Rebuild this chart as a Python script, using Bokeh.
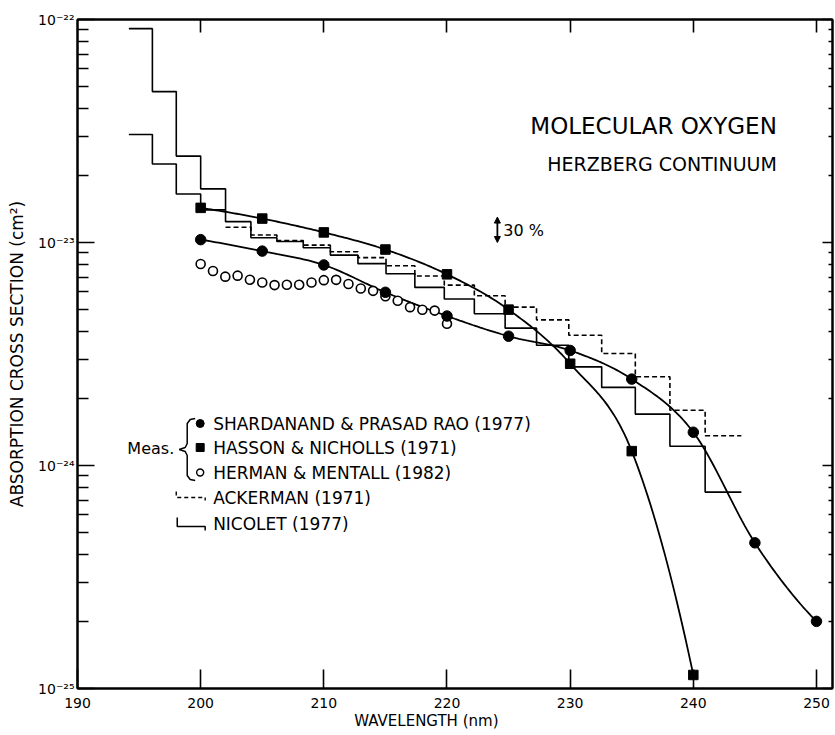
import numpy as np
from bokeh.plotting import figure
from bokeh.models import (LogAxis, LinearAxis, FixedTicker, Range1d, Label, Arrow,
                          NormalHead, CustomJSTickFormatter)
from bokeh.embed import file_html
from bokeh.resources import INLINE

# ---------------- data ----------------
# interval boundaries (nm) of the 500 cm-1 intervals
bounds = [194.17, 196.08, 198.02, 200.00, 202.02, 204.08, 206.19, 208.33, 210.53,
          212.77, 215.05, 217.39, 219.78, 222.22, 224.72, 227.27, 229.89, 232.56,
          235.29, 238.10, 240.96, 243.90]
nicolet_upper = [9.1e-23, 4.75e-23, 2.44e-23, 1.74e-23, 1.24e-23, 1.05e-23, 1.01e-23,
                 9.47e-24, 8.78e-24, 8.04e-24, 7.24e-24, 6.29e-24, 5.58e-24, 4.79e-24,
                 4.13e-24, 3.46e-24, 2.77e-24, 2.24e-24, 1.70e-24, 1.22e-24, 7.6e-25]
nicolet_lower_bounds = [194.17, 196.08, 198.02, 200.00, 202.02]
nicolet_lower = [3.05e-23, 2.25e-23, 1.65e-23, 1.40e-23]
ackerman_bounds = [202.02, 204.08, 206.19, 208.33, 210.53, 212.77, 215.05, 217.39,
                   219.78, 222.22, 224.72, 227.27, 229.89, 232.56, 235.29, 238.10,
                   240.96, 243.90]
ackerman = [1.17e-23, 1.08e-23, 1.02e-23, 9.73e-24, 9.09e-24, 8.55e-24, 7.86e-24,
            7.08e-24, 6.44e-24, 5.77e-24, 5.13e-24, 4.50e-24, 3.84e-24, 3.18e-24,
            2.50e-24, 1.77e-24, 1.36e-24]

shard_wl = [200, 205, 210, 215, 220, 225, 230, 235, 240, 245, 250]
shard_xs = [1.03e-23, 9.15e-24, 7.93e-24, 5.98e-24, 4.68e-24, 3.80e-24, 3.28e-24,
            2.44e-24, 1.41e-24, 4.5e-25, 2.0e-25]
hasson_wl = [200, 205, 210, 215, 220, 225, 230, 235, 240]
hasson_xs = [1.43e-23, 1.28e-23, 1.11e-23, 9.3e-24, 7.2e-24, 5.0e-24, 2.86e-24,
             1.16e-24, 1.15e-25]
herman_wl = [200, 201, 202, 203, 204, 205, 206, 207, 208, 209, 210, 211, 212, 213,
             214, 215, 216, 217, 218, 219, 220]
herman_xs = [8.01e-24, 7.45e-24, 7.03e-24, 7.10e-24, 6.81e-24, 6.62e-24, 6.44e-24,
             6.46e-24, 6.46e-24, 6.62e-24, 6.78e-24, 6.80e-24, 6.51e-24, 6.22e-24,
             6.07e-24, 5.74e-24, 5.48e-24, 5.13e-24, 4.99e-24, 4.95e-24, 4.32e-24]

x_ticks = [190, 200, 210, 220, 230, 240, 250]
y_decades = [1e-25, 1e-24, 1e-23, 1e-22]
scale_bar = [1.0e-23, 1.3e-23]   # the "30 %" indicator

legend_labels = ["SHARDANAND & PRASAD RAO (1977)", "HASSON & NICHOLLS (1971)",
                 "HERMAN & MENTALL (1982)", "ACKERMAN (1971)", "NICOLET (1977)"]

# ---------------- layout ----------------
W, H = 835, 735
BL, BR, BT, BB = 77, 1, 19, 47
X0, X1 = 190.0, 251.3
FW, FH = W - BL - BR, H - BT - BB
FONT = "DejaVu Sans"


def dx(px):
    return X0 + (px - BL) / FW * (X1 - X0)


def dy(py):
    return 10 ** (-22 - (py - BT) / FH * 3)


def smooth(xs, ys, n=24):
    x = np.asarray(xs, float)
    l = np.log10(np.asarray(ys, float))
    k = len(x)
    sec = np.diff(l) / np.diff(x)
    m = np.empty(k)
    m[1:-1] = (l[2:] - l[:-2]) / (x[2:] - x[:-2])
    m[0] = 2 * sec[0] - m[1]
    m[-1] = 2 * sec[-1] - m[-2]
    ox, oy = [], []
    for i in range(k - 1):
        h = x[i + 1] - x[i]
        t = np.linspace(0, 1, n, endpoint=(i == k - 2))
        h00 = 2 * t**3 - 3 * t**2 + 1
        h10 = t**3 - 2 * t**2 + t
        h01 = -2 * t**3 + 3 * t**2
        h11 = t**3 - t**2
        ox.extend(x[i] + t * h)
        oy.extend(10 ** (h00 * l[i] + h10 * h * m[i] + h01 * l[i + 1] + h11 * h * m[i + 1]))
    return [float(v) for v in ox], [float(v) for v in oy]


p = figure(width=W, height=H, x_range=Range1d(X0, X1), y_range=Range1d(1e-25, 1e-22),
           y_axis_type="log", output_backend="svg", toolbar_location=None,
           min_border_left=BL, min_border_right=BR, min_border_top=BT, min_border_bottom=BB,
           background_fill_color="white", border_fill_color="white",
           outline_line_color="black", outline_line_width=2)
p.grid.visible = False

minor = [k * d for d in y_decades[:-1] for k in range(2, 10)]
sup_code = """
const e = Math.round(Math.log10(tick));
const s = {'-':'\u207b','0':'\u2070','1':'\u00b9','2':'\u00b2','3':'\u00b3','4':'\u2074',
           '5':'\u2075','6':'\u2076','7':'\u2077','8':'\u2078','9':'\u2079'};
return '10' + String(e).split('').map(c => s[c]).join('');
"""

ya = p.yaxis[0]
ya.ticker = FixedTicker(ticks=y_decades, minor_ticks=minor)
ya.formatter = CustomJSTickFormatter(code=sup_code)
ya.axis_label = "ABSORPTION CROSS SECTION (cm\u00b2)"

xa = p.xaxis[0]
xa.ticker = FixedTicker(ticks=x_ticks, minor_ticks=[])
# trailing no-break spaces shift the centred title left, as in the original
xa.axis_label = "WAVELENGTH (nm)" + "\u00a0" * 12

top = LinearAxis(ticker=FixedTicker(ticks=x_ticks[1:], minor_ticks=[]),
                 formatter=CustomJSTickFormatter(code="return ' ';"))
right = LogAxis(ticker=FixedTicker(ticks=y_decades, minor_ticks=minor),
                formatter=CustomJSTickFormatter(code="return ' ';"))
p.add_layout(top, "above")
p.add_layout(right, "right")

for ax in (xa, ya, top, right):
    ax.axis_line_width = 2
    ax.axis_line_color = "black"
    ax.major_tick_out = 0
    ax.minor_tick_out = 0
    ax.major_tick_line_width = 1.6
    ax.minor_tick_line_width = 1.4
    ax.major_tick_line_color = "black"
    ax.minor_tick_line_color = "black"
    ax.major_label_text_font = FONT
    ax.major_label_text_font_size = "14px"
    ax.major_label_text_color = "black"
    ax.axis_label_text_font = FONT
    ax.axis_label_text_font_style = "normal"
    ax.axis_label_text_font_size = "17px"
    ax.axis_label_text_color = "black"

xa.major_tick_in = 19
xa.major_label_standoff = 9
xa.axis_label_standoff = 1
xa.axis_label_text_font_size = "15px"
ya.major_tick_in = 17
ya.minor_tick_in = 11
ya.major_label_standoff = 3
ya.axis_label_standoff = 8
top.major_tick_in = 13
top.major_label_standoff = 0
top.major_label_text_font_size = "1px"
right.major_tick_in = 10
right.minor_tick_in = 4
right.major_label_standoff = 0
right.major_label_text_font_size = "1px"

# ---------------- stairs ----------------
p.step(bounds, nicolet_upper + nicolet_upper[-1:], mode="after",
       line_color="black", line_width=1.6)
p.step(nicolet_lower_bounds, nicolet_lower + nicolet_lower[-1:], mode="after",
       line_color="black", line_width=1.6)
p.step(ackerman_bounds, ackerman + ackerman[-1:], mode="after",
       line_color="black", line_width=1.6, line_dash="5 3")

# ---------------- curves & points ----------------
sx, sy = smooth(shard_wl, shard_xs)
p.line(sx, sy, line_color="black", line_width=1.8)
hx, hy = smooth(hasson_wl, hasson_xs)
p.line(hx, hy, line_color="black", line_width=1.8)

p.scatter(herman_wl, herman_xs, marker="circle", size=9, fill_color="white",
          line_color="black", line_width=1.6)
p.scatter(shard_wl, shard_xs, marker="circle", size=10.5, color="black")
p.scatter(hasson_wl, hasson_xs, marker="square", size=9.5, color="black")

# ---------------- annotations ----------------
def label(px, py, text, size, align="left"):
    p.add_layout(Label(x=float(dx(px)), y=float(dy(py)), text=text, text_font=FONT,
                       text_font_size=size, text_align=align, text_baseline="middle",
                       text_color="black"))


label(531, 125, "MOLECULAR OXYGEN", "23px")
label(548, 163, "HERZBERG CONTINUUM", "19px")

p.add_layout(Arrow(x_start=float(dx(498)), x_end=float(dx(498)),
                   y_start=scale_bar[0], y_end=scale_bar[1],
                   start=NormalHead(size=6, fill_color="black", line_color="black"),
                   end=NormalHead(size=6, fill_color="black", line_color="black"),
                   line_width=1.8, line_color="black"))
label(504, 230, "30 %", "16px")

# legend
ly = [423, 447, 472, 497, 523]
for lab, yy in zip(legend_labels, ly):
    label(213, yy, lab, "17px")
p.scatter([dx(200)], [dy(ly[0])], marker="circle", size=8, color="black")
p.scatter([dx(200)], [dy(ly[1])], marker="square", size=8, color="black")
p.scatter([dx(200)], [dy(ly[2])], marker="circle", size=7, fill_color="white",
          line_color="black", line_width=1.4)
p.line([dx(176), dx(176), dx(205), dx(205)], [dy(491), dy(497), dy(497), dy(500)],
       line_color="black", line_width=1.4, line_dash="4 3")
p.line([dx(177), dx(177), dx(205), dx(205)], [dy(517), dy(526), dy(526), dy(530)],
       line_color="black", line_width=1.5)
label(174, 448, "Meas.", "16px", "right")
brace_px = [(195, 418), (190, 419), (187, 423), (187, 443), (185, 447), (179, 449),
            (185, 451), (187, 455), (187, 475), (190, 479), (195, 480)]
p.line([dx(a) for a, b in brace_px], [dy(b) for a, b in brace_px],
       line_color="black", line_width=1.5)

open("out.html", "w").write(file_html(p, INLINE))
